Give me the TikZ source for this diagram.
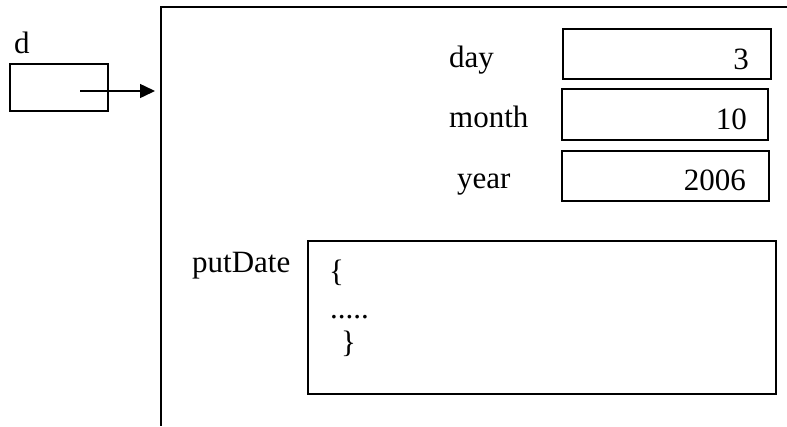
\documentclass[tikz,border=0pt]{standalone}
\usepackage{fontspec}
\setmainfont{Liberation Serif}
\usetikzlibrary{arrows.meta}
\tikzset{
  box/.style={draw, line width=1.5pt, inner sep=0pt},
  lbl/.style={inner sep=0pt, font=\fontsize{31}{37}\selectfont},
  frameline/.style={line width=1.5pt},
  ptr/.style={line width=1.5pt, -{Triangle[length=15pt,width=14pt]}}
}
\begin{document}
\begin{tikzpicture}[x=1pt,y=-1pt]
\useasboundingbox (0,0) rectangle (787,426);
% frame (object)
\draw[frameline] (787,7) -- (161,7) -- (161,426);
\coordinate (frameleft) at (155,91);
% variable d
\node[lbl, anchor=base west] (dlbl) at (14,53) {d};
\node[box, minimum width=98, minimum height=47] (dbox) at (59,87.5) {};
\coordinate (dstart) at (80,91);
\draw[ptr] (dstart) -- (frameleft);
% fields
\node[lbl, anchor=base west] (daylbl) at (449,67) {day};
\node[lbl, anchor=base west] (monthlbl) at (449,127) {month};
\node[lbl, anchor=base west] (yearlbl) at (457,188) {year};
\node[box, minimum width=208, minimum height=50] (daybox) at (667,54) {};
\node[box, minimum width=206, minimum height=51] (monthbox) at (665,114.5) {};
\node[box, minimum width=207, minimum height=50] (yearbox) at (665.5,176) {};
\node[lbl, anchor=base east] (dayval) at (749,69) {3};
\node[lbl, anchor=base east] (monthval) at (747,129) {10};
\node[lbl, anchor=base east] (yearval) at (746,190) {2006};
% method
\node[lbl, anchor=base west] (putlbl) at (192,272) {putDate};
\node[box, minimum width=468, minimum height=153] (putbox) at (542,317.5) {};
\node[lbl, anchor=base west] (lbrace) at (329,281) {\{};
\node[lbl, anchor=base west] (dots) at (330,318) {.....};
\node[lbl, anchor=base west] (rbrace) at (341,352) {\}};
\end{tikzpicture}
\end{document}
